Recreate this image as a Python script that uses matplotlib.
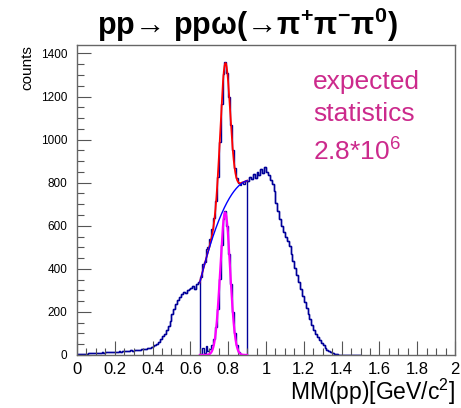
import numpy as np
import matplotlib.pyplot as plt
from matplotlib.ticker import MultipleLocator, FuncFormatter

plt.rcParams['font.family'] = ['Liberation Sans', 'DejaVu Sans']
plt.rcParams['mathtext.fontset'] = 'custom'
plt.rcParams['mathtext.rm'] = 'Liberation Sans'
plt.rcParams['mathtext.bf'] = 'Liberation Sans:bold'

# missing mass histogram, 0.01 GeV/c2 bins starting at 0
bin_width = 0.01
counts = [3, 4, 3, 5, 6, 5, 7, 8, 7, 9,
          10, 9, 11, 12, 11, 13, 12, 14, 15, 13,
          16, 15, 17, 16, 18, 19, 17, 20, 21, 19,
          22, 24, 23, 25, 26, 28, 29, 32, 34, 37,
          41, 46, 53, 62, 74, 86, 99, 116, 136, 160,
          188, 212, 238, 256, 270, 282, 293, 286, 300, 306,
          312, 318, 308, 330, 338,
          360, 421, 431, 493, 501, 539, 587, 637, 717, 828,
          990, 1166, 1305, 1362, 1309, 1196, 1070, 951, 867, 824,
          799, 790, 801, 795, 806,
          808, 826, 815, 840, 822, 848, 835, 862, 845, 872,
          850, 838, 812, 795, 760, 705, 668, 630, 598, 572,
          548, 530, 505, 470, 438, 405, 370, 340, 305, 275,
          245, 218, 190, 166, 140, 118, 98, 82, 68, 55,
          44, 34, 25, 18, 12, 8, 5, 3, 2, 1,
          1, 0, 0, 0, 0, 0, 0, 0, 0, 0]

# background subtracted bins between 0.65 and 0.90
sub_lo = 0.65
sub_counts = [5, 32, 10, 40, 18, 28, 48, 72, 128, 215,
              355, 510, 630, 668, 598, 470, 330, 198, 102, 48,
              14, 0, 0, 0, 0]

# fit results: pol2 background + gaus
fit_lo, fit_hi = 0.65, 0.90
bg_ref = 0.783
bg_coef = [690.0, 1784.5, -6511.0]
peak_amp, peak_mean, peak_sigma = 662.0, 0.784, 0.026

title = ('pp\u2192 pp\u03c9(\u2192\u03c0$^{\\mathbf{+}}$'
         '\u03c0$^{\\mathbf{-}}$\u03c0$^{\\mathbf{0}}$)')
note = 'expected\nstatistics\n2.8*10$^{6}$'

counts = np.array(counts, dtype=float)
edges = np.arange(len(counts) + 1) * bin_width
clone = counts.copy()
i0 = int(round(sub_lo / bin_width))
clone[i0:i0 + len(sub_counts)] = sub_counts

def background(x):
    u = x - bg_ref
    return bg_coef[0] + bg_coef[1] * u + bg_coef[2] * u ** 2

def peak(x):
    return peak_amp * np.exp(-0.5 * ((x - peak_mean) / peak_sigma) ** 2)

fig = plt.figure(figsize=(4.61, 4.08), dpi=100)
ax = fig.add_axes([0.167, 0.130, 0.820, 0.760])

navy = '#000099'
ax.stairs(counts, edges, color=navy, lw=1.0, baseline=0)
ax.stairs(clone, edges, color=navy, lw=1.0, baseline=0)

xf = np.linspace(fit_lo, fit_hi, 300)
ax.plot(xf, background(xf) + peak(xf), color='red', lw=1.3)
ax.plot(xf, background(xf), color='#0000ff', lw=1.0)
ax.plot(xf, peak(xf), color='#ff00ff', lw=1.6)

ax.set_xlim(0, 2)
ax.set_ylim(0, 1440)

ax.xaxis.set_major_locator(MultipleLocator(0.2))
ax.xaxis.set_minor_locator(MultipleLocator(0.05))
ax.yaxis.set_major_locator(MultipleLocator(200))
ax.yaxis.set_minor_locator(MultipleLocator(50))
ax.xaxis.set_major_formatter(FuncFormatter(lambda v, p: '%g' % round(v, 2)))
ax.tick_params(which='both', direction='in', top=False, right=False, color='#555555')
ax.tick_params(which='major', length=10, width=0.8)
ax.tick_params(which='minor', length=5, width=0.8)
ax.tick_params(axis='x', labelsize=12, pad=5)
ax.tick_params(axis='y', labelsize=8.5, pad=7)
for s in ax.spines.values():
    s.set_color('#666666')
    s.set_linewidth(1.0)

fig.text(0.987, 0.040, 'MM(pp)[GeV/c$^{2}$]', ha='right', va='center', fontsize=16.5)
fig.text(0.060, 0.890, 'counts', rotation=90, ha='center', va='top', fontsize=11)
fig.text(0.536, 0.940, title, ha='center', va='center', fontsize=22, fontweight='bold')
ax.text(0.625, 0.92, note, transform=ax.transAxes, ha='left', va='top',
        fontsize=19, color='#cc2a8c', linespacing=1.45)

fig.savefig('out.png', dpi=100)
